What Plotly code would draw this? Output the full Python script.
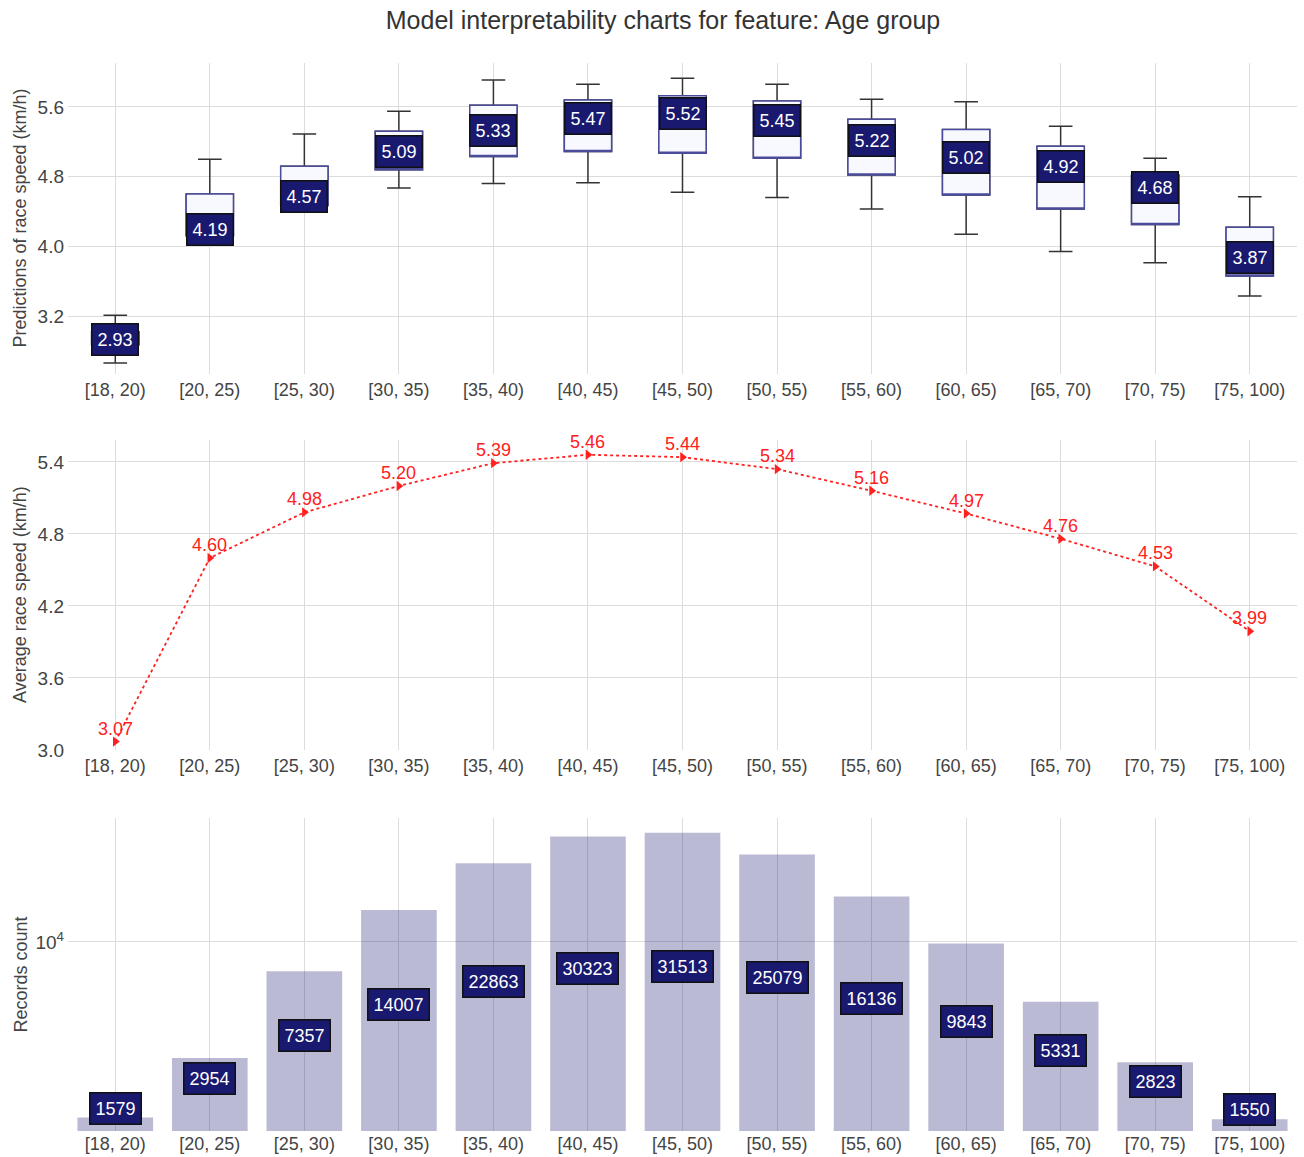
import math
import plotly.graph_objects as go
from plotly.subplots import make_subplots

# Age bins
age_groups = ["[18, 20)", "[20, 25)", "[25, 30)", "[30, 35)", "[35, 40)", "[40, 45)",
              "[45, 50)", "[50, 55)", "[55, 60)", "[60, 65)", "[65, 70)", "[70, 75)", "[75, 100)"]

# Distribution of model predictions per age bin (km/h)
pred_lower = [2.66, 4.08, 4.45, 4.67, 4.72, 4.73, 4.62, 4.56, 4.43, 4.14, 3.94, 3.81, 3.43]
pred_q1 = [2.87, 4.12, 4.47, 4.88, 5.03, 5.09, 5.07, 5.01, 4.82, 4.59, 4.43, 4.25, 3.66]
pred_median = [2.93, 4.19, 4.57, 5.09, 5.33, 5.47, 5.52, 5.45, 5.22, 5.02, 4.92, 4.68, 3.87]
pred_q3 = [3.02, 4.60, 4.92, 5.32, 5.62, 5.68, 5.73, 5.67, 5.46, 5.34, 5.15, 4.82, 4.22]
pred_upper = [3.21, 5.00, 5.29, 5.55, 5.91, 5.86, 5.93, 5.86, 5.69, 5.66, 5.38, 5.01, 4.57]

# Observed mean speed per age bin (km/h)
avg_speed = [3.07, 4.60, 4.98, 5.20, 5.39, 5.46, 5.44, 5.34, 5.16, 4.97, 4.76, 4.53, 3.99]

# Number of records per age bin
record_counts = [1579, 2954, 7357, 14007, 22863, 30323, 31513, 25079, 16136, 9843, 5331, 2823, 1550]

NAVY = "#191970"
RED = "#ff2020"
FONT = "Liberation Sans, Arial, sans-serif"
TICK_COLOR = "#444444"
GRID = "#dcdcdc"

W, H = 1304, 1157


def ydom(top_px, bottom_px):
    return [1 - bottom_px / H, 1 - top_px / H]


fig = make_subplots(rows=3, cols=1)

# --- Panel 1: prediction boxes -------------------------------------------
fig.add_trace(go.Box(
    x=age_groups, q1=pred_q1, median=pred_median, q3=pred_q3,
    lowerfence=pred_lower, upperfence=pred_upper,
    width=0.5, whiskerwidth=0.5,
    line=dict(color="#333333", width=1.5),
    fillcolor="rgba(0,0,0,0)", boxpoints=False, hoverinfo="skip",
), row=1, col=1)
fig.add_trace(go.Box(
    x=age_groups, q1=pred_q1, median=pred_q1, q3=pred_q3,
    lowerfence=pred_q1, upperfence=pred_q3,
    width=0.5, whiskerwidth=0,
    line=dict(color="#4b4b9c", width=1.5),
    fillcolor="#f8f8ff", boxpoints=False, hoverinfo="skip",
), row=1, col=1)

for g, m in zip(age_groups, pred_median):
    fig.add_annotation(
        x=g, y=m, xref="x", yref="y", text=f"{m:.2f}", showarrow=False,
        font=dict(family=FONT, size=18, color="white"),
        bgcolor=NAVY, bordercolor="#111111", borderwidth=1.5, borderpad=5,
    )

# --- Panel 2: mean speed line ----------------------------------------------
fig.add_trace(go.Scatter(
    x=age_groups, y=avg_speed, mode="lines+markers",
    line=dict(color=RED, width=1.8, dash="dot"),
    marker=dict(symbol="triangle-right", size=9, color=RED),
    hoverinfo="skip", cliponaxis=False,
), row=2, col=1)

for g, v in zip(age_groups, avg_speed):
    fig.add_annotation(
        x=g, y=v, xref="x2", yref="y2", text=f"{v:.2f}", showarrow=False,
        yshift=13, font=dict(family=FONT, size=18, color=RED),
    )

# --- Panel 3: record counts ------------------------------------------------
fig.add_trace(go.Bar(
    x=age_groups, y=record_counts, width=0.8,
    marker=dict(color="rgba(25,25,112,0.3)", line=dict(width=0)),
    hoverinfo="skip",
), row=3, col=1)

for g, c in zip(age_groups, record_counts):
    ylog = (math.log10(c) + math.log10(1900)) / 2
    fig.add_annotation(
        x=g, y=ylog, xref="x3", yref="y3", text=str(c), showarrow=False,
        font=dict(family=FONT, size=18, color="white"),
        bgcolor=NAVY, bordercolor="#111111", borderwidth=1.5, borderpad=5,
    )

# --- Axes ------------------------------------------------------------------
xdom = [68 / W, 1297 / W]
common_x = dict(
    type="category", range=[-0.5, 12.5], showgrid=True, gridcolor=GRID, gridwidth=1,
    showline=False, zeroline=False, ticks="", ticklabelstandoff=3,
    tickfont=dict(family=FONT, size=18, color=TICK_COLOR), domain=xdom,
)
common_y = dict(
    showgrid=True, gridcolor=GRID, gridwidth=1, showline=False, zeroline=False, ticks="",
    ticklabelstandoff=3, tickfont=dict(family=FONT, size=19, color=TICK_COLOR), automargin=False,
)

fig.update_xaxes(**common_x)
fig.update_xaxes(row=3, col=1, ticklabelstandoff=0)
fig.update_yaxes(**common_y)

fig.update_yaxes(row=1, col=1, range=[2.534, 6.105], tickvals=[3.2, 4.0, 4.8, 5.6],
                 ticktext=["3.2", "4.0", "4.8", "5.6"], domain=ydom(63, 374))
fig.update_yaxes(row=2, col=1, range=[3.0, 5.583], tickvals=[3.0, 3.6, 4.2, 4.8, 5.4],
                 ticktext=["3.0", "3.6", "4.2", "4.8", "5.4"], domain=ydom(440, 750))
fig.update_yaxes(row=3, col=1, type="log", range=[3.137, 4.566], tickvals=[10000],
                 ticktext=["10<sup>4</sup>"], domain=ydom(818, 1131))

# Axis titles
for text, top, bottom in [("Predictions of race speed (km/h)", 63, 374),
                          ("Average race speed (km/h)", 440, 750),
                          ("Records count", 818, 1131)]:
    fig.add_annotation(
        x=20 / W, y=1 - (top + bottom) / 2 / H, xref="paper", yref="paper",
        xanchor="center", yanchor="middle",
        text=text, textangle=-90, showarrow=False,
        font=dict(family=FONT, size=18, color=TICK_COLOR),
    )

fig.update_layout(
    width=W, height=H,
    margin=dict(l=0, r=0, t=0, b=0),
    paper_bgcolor="white", plot_bgcolor="white",
    showlegend=False, boxmode="overlay",
    title=dict(text="Model interpretability charts for feature: Age group",
               x=663 / W, xanchor="center", y=1 - 20 / H, yanchor="middle",
               font=dict(family=FONT, size=25, color="#333333")),
    font=dict(family=FONT),
)

fig.write_html("out.html")
